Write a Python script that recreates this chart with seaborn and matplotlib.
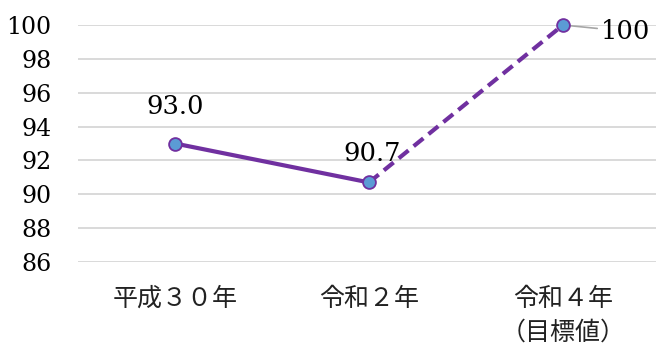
import matplotlib
matplotlib.use("Agg")
import matplotlib.pyplot as plt
import seaborn as sns
import pandas as pd

# Survey results and target value
years = ["平成３０年", "令和２年", "令和４年\n（目標値）"]
values = [93.0, 90.7, 100.0]
value_labels = ["93.0", "90.7", "100"]
y_ticks = [86, 88, 90, 92, 94, 96, 98, 100]

sns.set_theme(style="white")
plt.rcParams["font.family"] = ["DejaVu Serif", "Noto Sans CJK JP"]
plt.rcParams["text.color"] = "black"
plt.rcParams["xtick.color"] = "#222222"
plt.rcParams["ytick.color"] = "black"

purple = "#7030A0"
marker_fill = "#5B9BD5"

# actual values drawn solid, the step to the target dashed
df = pd.DataFrame({
    "year": [years[0], years[1], years[1], years[2]],
    "value": [values[0], values[1], values[1], values[2]],
    "seg": ["actual", "actual", "target", "target"],
})
pts = pd.DataFrame({"year": years, "value": values})

fig = plt.figure(figsize=(6.56, 3.47), dpi=100)
ax = fig.add_axes([78 / 656, 85 / 347, 582 / 656, 237 / 347])

sns.lineplot(data=df, x="year", y="value", style="seg",
             dashes={"actual": "", "target": (3, 1.6)},
             color=purple, linewidth=3.0, legend=False, ax=ax)
sns.scatterplot(data=pts, x="year", y="value", s=85, color=marker_fill,
                edgecolor=purple, linewidth=1.3, zorder=5, legend=False,
                clip_on=False, ax=ax)

ax.set_xlim(-0.5, 2.5)
ax.set_ylim(86, 100)
ax.set_yticks(y_ticks)
ax.set_yticklabels([str(t) for t in y_ticks], fontsize=17,
                   family=["DejaVu Serif"])
ax.grid(axis="y", color="#d9d9d9", linewidth=1.4)
ax.set_axisbelow(True)
for s in ax.spines.values():
    s.set_visible(False)
ax.tick_params(axis="y", length=0, pad=19)
ax.tick_params(axis="x", length=0, pad=17)
ax.set_xticks(range(len(years)))
ax.set_xticklabels(years, fontsize=18, family=["Noto Sans CJK JP"],
                   linespacing=1.4, va="top")
ax.set_xlabel("")
ax.set_ylabel("")

# value labels
ax.annotate(value_labels[0], (0, values[0]), xytext=(0, 27),
            textcoords="offset points", ha="center", va="center",
            fontsize=18.5)
ax.annotate(value_labels[1], (1, values[1]), xytext=(2, 21),
            textcoords="offset points", ha="center", va="center",
            fontsize=18.5)
ax.annotate(value_labels[2], (2, values[2]), xytext=(27, -4.5),
            textcoords="offset points", ha="left", va="center",
            fontsize=18.5,
            arrowprops=dict(arrowstyle="-", color="#a6a6a6", lw=1.2,
                            shrinkA=0, shrinkB=1))

fig.savefig("out.png", dpi=100)
